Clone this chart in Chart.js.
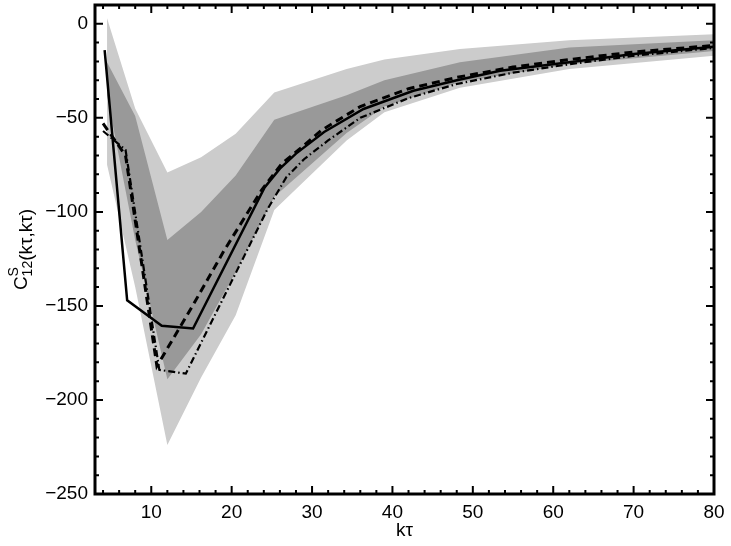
<!DOCTYPE html>
<html>
<head>
<meta charset="utf-8">
<script src="https://cdn.jsdelivr.net/npm/chart.js@4.4.0/dist/chart.umd.min.js"></script>
<style>
  html, body { margin: 0; padding: 0; background: #fff; }
</style>
</head>
<body>
<canvas id="corrChart" width="731" height="546"></canvas>
<script>
// tick labels
const xTicks = [10, 20, 30, 40, 50, 60, 70, 80];
const yTicks = [-250, -200, -150, -100, -50, 0];

// shaded bands (outer = light, inner = dark)
const bandX = [4.5, 8, 12, 16.2, 20.5, 25.3, 34.3, 39, 48.4, 62, 80];
const lightTop = [3, -45, -79, -71, -58.5, -36.5, -24, -19, -13.4, -8.7, -5.5];
const lightBottom = [-75, -140, -224, -188, -155, -99, -62, -47, -34, -24, -17];
const darkTop = [-20.5, -49, -115, -100, -80.7, -51, -38, -30, -20.5, -12.6, -8.7];
const darkBottom = [-38, -115, -189, -165, -132, -92, -58, -44, -31, -21.5, -14.5];

// solid curve
const solidX = [4.2, 7, 11.3, 15.2, 24.1, 26, 28, 31.5, 36.4, 42.6, 48, 53.4, 62, 70, 80];
const solidY = [-14, -147, -160.5, -162, -87, -77, -69, -57.5, -45.3, -35.6, -30, -25, -20.5, -16, -12.2];

// dashed curve
const dashX = [4, 6.8, 10.7, 15, 19, 23.7, 26.2, 28.9, 31.2, 36, 42, 48, 55, 62, 70, 80];
const dashY = [-53, -70, -182, -151, -121, -88.6, -74.5, -65, -56.5, -44, -34.5, -28.5, -23, -19, -15, -11.5];

// dash-dot curve
const dotX = [4, 6.8, 11, 14.3, 24.4, 26.8, 29, 32, 36, 42, 48, 55, 62, 70, 80];
const dotY = [-57, -67, -184, -186, -99, -81.6, -72, -62, -50, -39.5, -32, -26, -21.5, -17, -12.8];

const FONT = '"Liberation Sans", Arial, sans-serif';

function pts(xs, ys) {
  return xs.map((x, i) => ({ x: x, y: ys[i] }));
}

function minusLabel(v) {
  return v < 0 ? "\u2212" + Math.abs(v) : String(v);
}

// box around the plot with inward ticks on all four sides
const frameTicks = {
  id: "frameTicks",
  afterDraw(chart) {
    const { ctx, chartArea: a, scales } = chart;
    const x = scales.x, y = scales.y;
    ctx.save();
    ctx.strokeStyle = "#000";
    ctx.lineWidth = 2;
    ctx.beginPath();
    for (let v = 4; v <= 80; v += 2) {
      const px = x.getPixelForValue(v);
      const len = v % 10 === 0 ? 8 : 4;
      ctx.moveTo(px, a.bottom); ctx.lineTo(px, a.bottom - len);
      ctx.moveTo(px, a.top); ctx.lineTo(px, a.top + len);
    }
    for (let v = -240; v <= 0; v += 10) {
      const py = y.getPixelForValue(v);
      const len = v % 50 === 0 ? 8 : 4;
      ctx.moveTo(a.left, py); ctx.lineTo(a.left + len, py);
      ctx.moveTo(a.right, py); ctx.lineTo(a.right - len, py);
    }
    ctx.stroke();
    ctx.lineWidth = 3;
    ctx.strokeRect(a.left, a.top, a.right - a.left, a.bottom - a.top);
    ctx.restore();
  }
};

// y title with superscript / subscript
const yTitle = {
  id: "yTitle",
  afterDraw(chart) {
    const { ctx, chartArea: a } = chart;
    const big = "19px " + FONT;
    const small = "14px " + FONT;
    ctx.save();
    ctx.translate(27, (a.top + a.bottom) / 2);
    ctx.rotate(-Math.PI / 2);
    ctx.fillStyle = "#000";
    ctx.textBaseline = "alphabetic";
    ctx.font = big;
    const wC = ctx.measureText("C").width;
    const wRest = ctx.measureText("(k\u03c4,k\u03c4)").width;
    ctx.font = small;
    const wS = ctx.measureText("S").width;
    const w12 = ctx.measureText("12").width;
    const wSub = Math.max(wS, w12);
    let pos = -(wC + wSub + wRest) / 2;
    ctx.font = big;
    ctx.fillText("C", pos, 0);
    pos += wC;
    ctx.font = small;
    ctx.fillText("S", pos, -9);
    ctx.fillText("12", pos, 5);
    pos += wSub;
    ctx.font = big;
    ctx.fillText("(k\u03c4,k\u03c4)", pos, 5);
    ctx.restore();
  }
};

const lineBase = { pointRadius: 0, tension: 0, fill: false, borderColor: "#000" };

new Chart(document.getElementById("corrChart"), {
  type: "line",
  data: {
    datasets: [
      Object.assign({}, lineBase, { label: "solid", data: pts(solidX, solidY), borderWidth: 2.5 }),
      Object.assign({}, lineBase, { label: "dashed", data: pts(dashX, dashY), borderWidth: 3, borderDash: [8, 5] }),
      Object.assign({}, lineBase, { label: "dash-dot", data: pts(dotX, dotY), borderWidth: 2.2, borderDash: [7, 3, 1.5, 3] }),
      { label: "darkTop", data: pts(bandX, darkTop), pointRadius: 0, borderWidth: 0, tension: 0,
        backgroundColor: "#999999", borderColor: "rgba(0,0,0,0)", fill: "+1" },
      { label: "darkBottom", data: pts(bandX, darkBottom), pointRadius: 0, borderWidth: 0, tension: 0,
        borderColor: "rgba(0,0,0,0)", fill: false },
      { label: "lightTop", data: pts(bandX, lightTop), pointRadius: 0, borderWidth: 0, tension: 0,
        backgroundColor: "#cccccc", borderColor: "rgba(0,0,0,0)", fill: "+1" },
      { label: "lightBottom", data: pts(bandX, lightBottom), pointRadius: 0, borderWidth: 0, tension: 0,
        borderColor: "rgba(0,0,0,0)", fill: false }
    ]
  },
  options: {
    responsive: false,
    animation: false,
    layout: { padding: { top: 5, right: 17, left: 0, bottom: 0 } },
    plugins: {
      legend: { display: false },
      tooltip: { enabled: false }
    },
    scales: {
      x: {
        type: "linear",
        min: 3,
        max: 80,
        afterBuildTicks: (s) => { s.ticks = xTicks.map((v) => ({ value: v })); },
        afterFit: (s) => { s.height = 52; s.paddingLeft = 0; s.paddingRight = 0; },
        grid: { display: false, drawTicks: false },
        border: { display: false },
        ticks: { color: "#000", padding: 7, maxRotation: 0, font: { size: 19, family: FONT } },
        title: { display: true, text: "k\u03c4", color: "#000", padding: { top: 0, bottom: 4 },
          font: { size: 19, family: FONT } }
      },
      y: {
        min: -250,
        max: 10,
        afterBuildTicks: (s) => { s.ticks = yTicks.map((v) => ({ value: v })); },
        afterFit: (s) => { s.width = 95; s.paddingTop = 0; s.paddingBottom = 0; },
        grid: { display: false, drawTicks: false },
        border: { display: false },
        ticks: { color: "#000", padding: 7, callback: minusLabel, font: { size: 19, family: FONT } }
      }
    }
  },
  plugins: [frameTicks, yTitle]
});
</script>
</body>
</html>
